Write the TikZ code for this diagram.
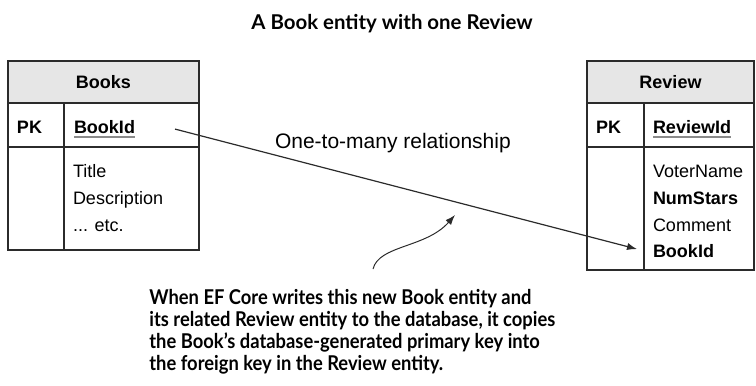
\documentclass[tikz,border=0pt]{standalone}
\usepackage{fontspec}
\setmainfont{Liberation Sans}
\newfontfamily\notefont{Lato}
\newfontfamily\notenarrow[FakeStretch=0.9]{Lato}
\usepackage{tikz}
\usetikzlibrary{arrows.meta}

\definecolor{hdrgray}{HTML}{E6E6E6}
\definecolor{linegray}{HTML}{2B2B2B}
\definecolor{ulgray}{HTML}{8A8A8A}

\tikzset{
	cell/.style={draw=linegray, line width=0.6pt, inner sep=0pt, outer sep=0pt, anchor=north west},
	hdr/.style={cell, fill=hdrgray, font=\fontsize{9}{11}\selectfont\bfseries},
	field/.style={inner sep=0pt, outer sep=0pt, anchor=base west},
	keyfield/.style={field, font=\fontsize{9}{11}\selectfont\bfseries},
	uline/.style={draw=ulgray, line width=1pt},
	notetxt/.style={inner sep=0pt, font=\fontsize{10.2}{11}\notenarrow\bfseries},
}

\begin{document}
\begin{tikzpicture}[x=0.5pt, y=-0.5pt, font=\fontsize{9}{11}\selectfont, >={Latex[length=5pt,width=3.6pt]}]
	\useasboundingbox (0,0) rectangle (756,386);

	% title
	\node[inner sep=0pt, font=\fontsize{10.2}{12}\notefont\bfseries] (title) at (392,24) {A Book entity with one Review};

	% Books table
	\node[hdr, minimum width=95.5pt, minimum height=21pt] (bookshdr) at (8,61) {Books};
	\node[cell, minimum width=28pt, minimum height=22pt] (bookspk) at (8,103) {};
	\node[cell, minimum width=67.5pt, minimum height=22pt] (booksid) at (64,103) {};
	\node[cell, minimum width=28pt, minimum height=51.5pt] (booksleft) at (8,147) {};
	\node[cell, minimum width=67.5pt, minimum height=51.5pt] (booksbody) at (64,147) {};

	\node[keyfield] (bkpk) at (17,133.5) {PK};
	\node[keyfield] (bkid) at (74,133.5) {BookId};
	\draw[uline] ([yshift=-1.8pt]bkid.base west) -- ([yshift=-1.8pt]bkid.base east);
	\node[field] (bktitle) at (73,177) {Title};
	\node[field] (bkdesc) at (73,204) {Description};
	\node[field] (bketc) at (73,231) {... etc.};

	% Review table
	\node[hdr, minimum width=83.5pt, minimum height=21pt] (reviewhdr) at (587,61) {Review};
	\node[cell, minimum width=28.5pt, minimum height=22pt] (reviewpk) at (587,103) {};
	\node[cell, minimum width=55pt, minimum height=22pt] (reviewid) at (644,103) {};
	\node[cell, minimum width=28.5pt, minimum height=61.5pt] (reviewleft) at (587,147) {};
	\node[cell, minimum width=55pt, minimum height=61.5pt] (reviewbody) at (644,147) {};

	\node[keyfield] (rvpk) at (596,133.5) {PK};
	\node[keyfield] (rvid) at (653,133.5) {ReviewId};
	\draw[uline] ([yshift=-1.8pt]rvid.base west) -- ([yshift=-1.8pt]rvid.base east);
	\node[field] (rvvoter) at (653,177) {VoterName};
	\node[keyfield] (rvstars) at (653,204) {NumStars};
	\node[field] (rvcomment) at (653,231) {Comment};
	\node[keyfield] (rvbkid) at (653,257.5) {BookId};

	% relationship
	\draw[->, linegray, line width=0.6pt] ([shift={(20pt,-1pt)}]bkid.east) -- ([shift={(-8pt,1pt)}]rvbkid.west);
	\node[field, font=\fontsize{10.5}{12}\selectfont] (rel) at (275,148) {One-to-many relationship};

	% note
	\node[notetxt, anchor=north west, align=left] (note) at (149,289)
		{When EF Core writes this new Book entity and\\
		its related Review entity to the database, it copies\\
		the Book’s database-generated primary key into\\
		the foreign key in the Review entity.};
	\coordinate (hint) at (455,215);
	\draw[->, linegray, line width=0.5pt] ([shift={(112pt,10pt)}]note.north west)
		.. controls +(3pt,12pt) and +(-14.5pt,-16.5pt) .. (hint);
\end{tikzpicture}
\end{document}
